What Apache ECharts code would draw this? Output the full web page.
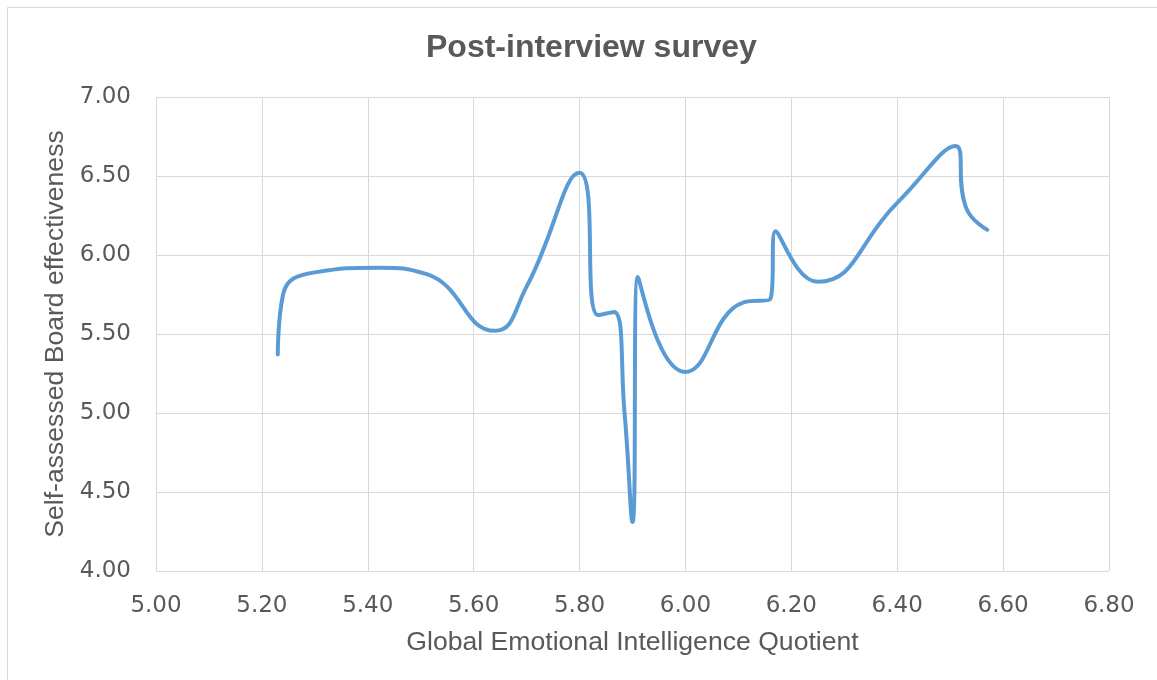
<!DOCTYPE html>
<html>
<head>
<meta charset="utf-8">
<script src="https://cdn.jsdelivr.net/npm/echarts@6/dist/echarts.min.js"></script>
<style>
  html, body { margin: 0; padding: 0; background: #ffffff; }
  #chart { width: 1157px; height: 680px; }
</style>
</head>
<body>
<div id="chart"></div>
<script>
// Survey responses: emotional intelligence quotient vs. self-assessed board effectiveness
const geiq = [5.23, 5.24, 5.30, 5.42, 5.51, 5.64, 5.70, 5.80, 5.835, 5.865, 5.885, 5.90, 5.91, 6.00, 6.11, 6.16, 6.17, 6.25, 6.40, 6.51, 6.53, 6.57];
const effectiveness = [5.37, 5.75, 5.89, 5.92, 5.88, 5.52, 5.80, 6.52, 5.62, 5.64, 5.00, 4.31, 5.86, 5.26, 5.70, 5.72, 6.15, 5.83, 6.33, 6.69, 6.30, 6.16];

const chartTitle = 'Post-interview survey';
const xAxisName = 'Global Emotional Intelligence Quotient';
const yAxisName = 'Self-assessed Board effectiveness';

const points = geiq.map((x, i) => [x, effectiveness[i]]);

const textColor = '#595959';
const gridColor = '#d9d9d9';

const chart = echarts.init(document.getElementById('chart'), null, { renderer: 'canvas' });
chart.setOption({
  animation: false,
  backgroundColor: '#ffffff',
  title: {
    text: chartTitle,
    left: 421,
    top: 27,
    textStyle: { fontFamily: 'Liberation Sans', fontWeight: 'bold', fontSize: 32, color: textColor }
  },
  graphic: [{
    type: 'rect',
    shape: { x: 7.5, y: 7.5, width: 1200, height: 720 },
    style: { fill: 'none', stroke: gridColor, lineWidth: 1 },
    silent: true
  }],
  grid: { left: 156, right: 48, top: 97, bottom: 109, containLabel: false },
  xAxis: {
    type: 'value',
    min: 5.0, max: 6.8, interval: 0.2,
    name: xAxisName,
    nameLocation: 'middle',
    nameGap: 58,
    nameTextStyle: { fontFamily: 'Liberation Sans', fontSize: 26.6, color: textColor },
    axisLine: { show: false },
    axisTick: { show: false },
    axisLabel: {
      margin: 24,
      fontFamily: 'DejaVu Sans', fontSize: 23, color: textColor,
      formatter: v => v.toFixed(2)
    },
    splitLine: { show: true, lineStyle: { color: gridColor, width: 1 } }
  },
  yAxis: {
    type: 'value',
    min: 4.0, max: 7.0, interval: 0.5,
    name: yAxisName,
    nameLocation: 'middle',
    nameGap: 85,
    nameTextStyle: { fontFamily: 'Liberation Sans', fontSize: 26.6, color: textColor },
    axisLine: { show: false },
    axisTick: { show: false },
    axisLabel: {
      margin: 25,
      fontFamily: 'DejaVu Sans', fontSize: 23, color: textColor,
      formatter: v => v.toFixed(2)
    },
    splitLine: { show: true, lineStyle: { color: gridColor, width: 1 } }
  },
  series: [{
    type: 'line',
    data: points,
    smooth: 0.5,
    smoothConstraint: false,
    showSymbol: false,
    symbol: 'none',
    lineStyle: { color: '#5b9bd5', width: 4, cap: 'round', join: 'round' }
  }]
});
</script>
</body>
</html>
